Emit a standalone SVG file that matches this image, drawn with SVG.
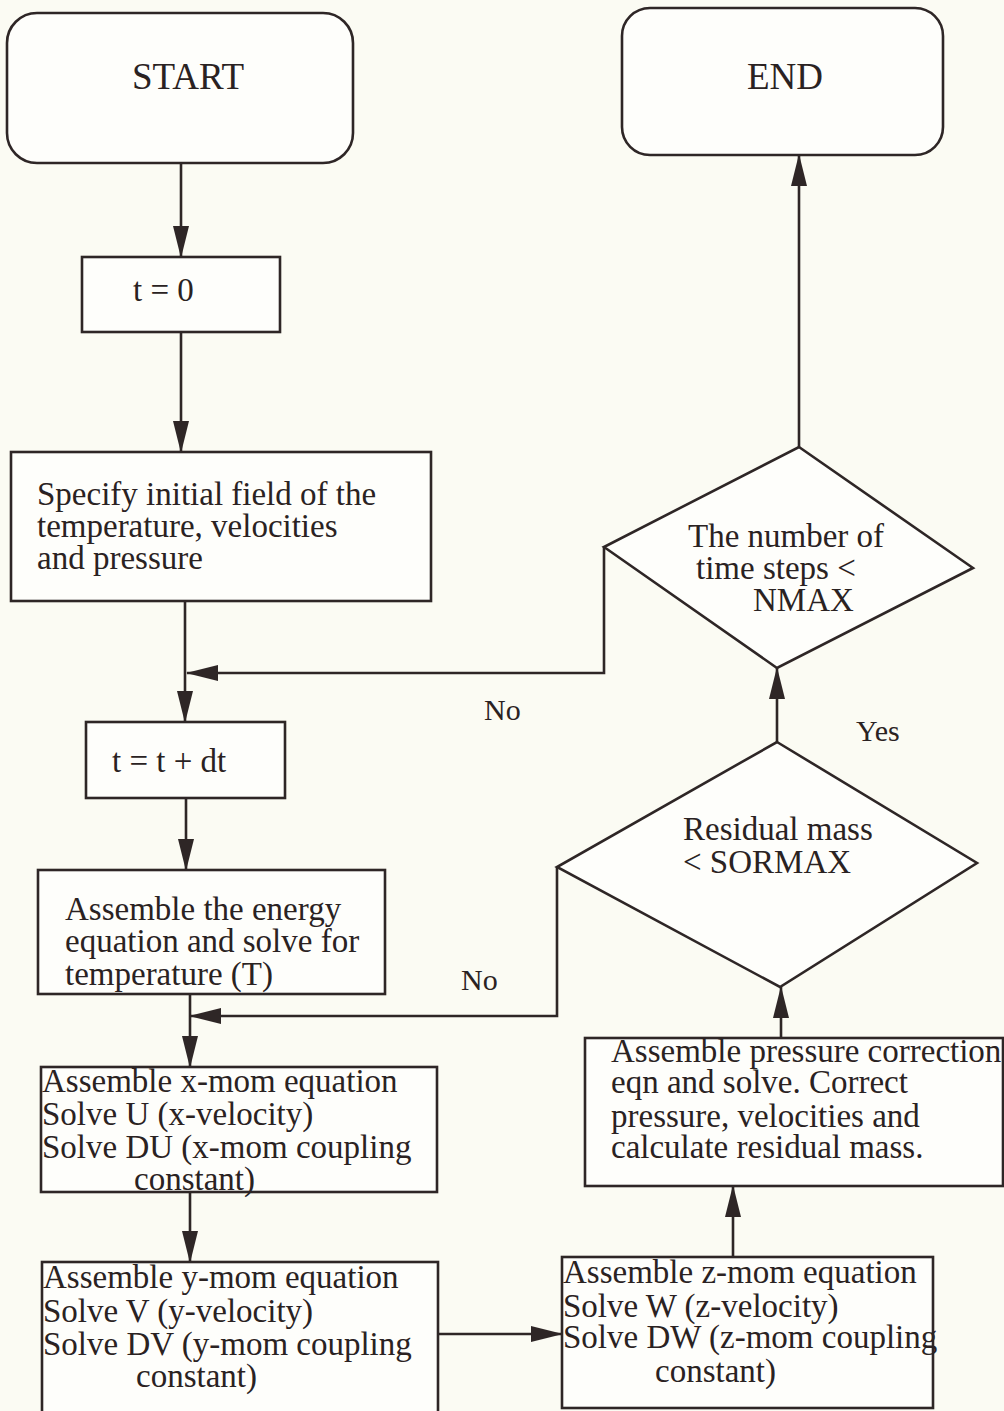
<svg xmlns="http://www.w3.org/2000/svg" width="1004" height="1411" viewBox="0 0 1004 1411">
<defs>
<marker id="ah" markerUnits="userSpaceOnUse" markerWidth="32" markerHeight="16" refX="31" refY="8" orient="auto" viewBox="0 0 32 16">
<path d="M0,0 L32,8 L0,16 z" fill="#2e2626"/>
</marker>
<style>
.bx{fill:#fefefb;stroke:#2e2626;stroke-width:2.6}
.cn{fill:none;stroke:#2e2626;stroke-width:2.6;marker-end:url(#ah)}
.cl{fill:none;stroke:#2e2626;stroke-width:2.6}
text{font-family:"Liberation Serif","Times New Roman",serif;fill:#2a2222;font-size:33px}
.big{font-size:37px}
.lbl{font-size:30px}
</style>
</defs>
<rect x="0" y="0" width="1004" height="1411" fill="#fbfbf3"/>
<g id="connectors">
<path class="cn" d="M181,163 L181,257"/>
<path class="cn" d="M181,332 L181,452"/>
<path class="cn" d="M185,601 L185,722"/>
<path class="cn" d="M604,547 L604,673 L187,673"/>
<path class="cn" d="M186,798 L186,870"/>
<path class="cn" d="M190,994 L190,1067"/>
<path class="cn" d="M557,867 L557,1016 L190,1016"/>
<path class="cn" d="M190,1192 L190,1262"/>
<path class="cn" d="M438,1334 L562,1334"/>
<path class="cn" d="M733,1257 L733,1186"/>
<path class="cn" d="M781,1038 L781,987"/>
<path class="cn" d="M777,742 L777,668"/>
<path class="cn" d="M799,447 L799,155"/>
<text class="lbl" x="484" y="720">No</text>
<text class="lbl" x="461" y="990">No</text>
<text class="lbl" x="856" y="741">Yes</text>
</g>
<g id="start">
<rect class="bx" x="7" y="13" width="346" height="150" rx="30" ry="30"/>
<text class="big" x="132" y="89">START</text>
</g>
<g id="end">
<rect class="bx" x="622" y="8" width="321" height="147" rx="28" ry="28"/>
<text class="big" x="747" y="89">END</text>
</g>
<g id="t0">
<rect class="bx" x="82" y="257" width="198" height="75"/>
<text x="133" y="301">t = 0</text>
</g>
<g id="specify">
<rect class="bx" x="11" y="452" width="420" height="149"/>
<text x="37" y="505">Specify initial field of the</text>
<text x="37" y="537">temperature, velocities</text>
<text x="37" y="569">and pressure</text>
</g>
<g id="tdt">
<rect class="bx" x="86" y="722" width="199" height="76"/>
<text x="112" y="772">t = t + dt</text>
</g>
<g id="energy">
<rect class="bx" x="38" y="870" width="347" height="124"/>
<text x="65" y="920">Assemble the energy</text>
<text x="65" y="952">equation and solve for</text>
<text x="65" y="985">temperature (T)</text>
</g>
<g id="xmom">
<rect class="bx" x="41" y="1067" width="396" height="125"/>
<text x="42" y="1092">Assemble x-mom equation</text>
<text x="42" y="1125">Solve U (x-velocity)</text>
<text x="42" y="1158">Solve DU (x-mom coupling</text>
<text x="134" y="1190">constant)</text>
</g>
<g id="ymom">
<rect class="bx" x="42" y="1262" width="396" height="160"/>
<text x="43" y="1288">Assemble y-mom equation</text>
<text x="43" y="1322">Solve V (y-velocity)</text>
<text x="43" y="1355">Solve DV (y-mom coupling</text>
<text x="136" y="1387">constant)</text>
</g>
<g id="zmom">
<rect class="bx" x="562" y="1257" width="371" height="151"/>
<text x="563" y="1283">Assemble z-mom equation</text>
<text x="563" y="1317">Solve W (z-velocity)</text>
<text x="563" y="1348">Solve DW (z-mom coupling</text>
<text x="655" y="1382">constant)</text>
</g>
<g id="pressure">
<rect class="bx" x="585" y="1038" width="418" height="148"/>
<text x="611" y="1062">Assemble pressure correction</text>
<text x="611" y="1093">eqn and solve. Correct</text>
<text x="611" y="1127">pressure, velocities and</text>
<text x="611" y="1158">calculate residual mass.</text>
</g>
<g id="residual">
<polygon class="bx" points="777,742 977,863 780,987 557,867"/>
<text x="683" y="840">Residual mass</text>
<text x="683" y="873">&lt; SORMAX</text>
</g>
<g id="nmax">
<polygon class="bx" points="799,447 973,568 777,668 604,547"/>
<text x="688" y="547">The number of</text>
<text x="696" y="579">time steps &lt;</text>
<text x="753" y="611">NMAX</text>
</g>
</svg>
